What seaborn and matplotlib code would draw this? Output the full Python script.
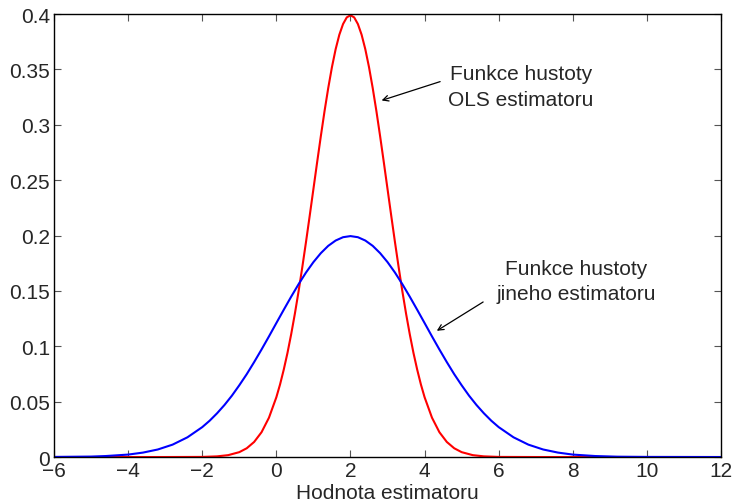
import matplotlib
matplotlib.use("Agg")
import matplotlib.pyplot as plt
import seaborn as sns
import pandas as pd

# Values
ols_x = [-6, -3, -2, -1.6, -1.3, -1.0, -0.8, -0.6, -0.4, -0.2,
         0.0, 0.1, 0.2, 0.3, 0.4, 0.5, 0.6, 0.7, 0.8, 0.9,
         1.0, 1.1, 1.2, 1.3, 1.4, 1.5, 1.6, 1.7, 1.8, 1.9,
         2.0, 2.1, 2.2, 2.3, 2.4, 2.5, 2.6, 2.7, 2.8, 2.9,
         3.0, 3.1, 3.2, 3.3, 3.4, 3.5, 3.6, 3.7, 3.8, 3.9,
         4.0, 4.2, 4.4, 4.6, 4.8, 5.0, 5.3, 5.6, 6.0, 7.0, 12.0]
ols_y = [0.0000, 0.0000, 0.0001, 0.0006, 0.0017, 0.0044, 0.0079, 0.0136, 0.0224, 0.0355,
         0.0540, 0.0656, 0.0790, 0.0940, 0.1109, 0.1295, 0.1497, 0.1714, 0.1942, 0.2179,
         0.2420, 0.2661, 0.2897, 0.3123, 0.3332, 0.3521, 0.3683, 0.3814, 0.3910, 0.3970,
         0.3989, 0.3970, 0.3910, 0.3814, 0.3683, 0.3521, 0.3332, 0.3123, 0.2897, 0.2661,
         0.2420, 0.2179, 0.1942, 0.1714, 0.1497, 0.1295, 0.1109, 0.0940, 0.0790, 0.0656,
         0.0540, 0.0355, 0.0224, 0.0136, 0.0079, 0.0044, 0.0017, 0.0006, 0.0001, 0.0000, 0.0000]

other_x = [-6, -5, -4.6, -4.0, -3.6, -3.2, -2.8, -2.4,
           -2.0, -1.8, -1.6, -1.4, -1.2, -1.0, -0.8, -0.6, -0.4, -0.2,
           0.0, 0.2, 0.4, 0.6, 0.8, 1.0, 1.2, 1.4, 1.6, 1.8,
           2.0, 2.2, 2.4, 2.6, 2.8, 3.0, 3.2, 3.4, 3.6, 3.8,
           4.0, 4.2, 4.4, 4.6, 4.8, 5.0, 5.2, 5.4, 5.6, 5.8,
           6.0, 6.4, 6.8, 7.2, 7.6, 8.0, 8.6, 9.2, 10.0, 12.0]
other_y = [0.0001, 0.0004, 0.0009, 0.0022, 0.0040, 0.0068, 0.0112, 0.0178,
           0.0270, 0.0328, 0.0395, 0.0470, 0.0554, 0.0648, 0.0748, 0.0857, 0.0971, 0.1089,
           0.1210, 0.1330, 0.1448, 0.1561, 0.1666, 0.1760, 0.1841, 0.1907, 0.1955, 0.1985,
           0.1995, 0.1985, 0.1955, 0.1907, 0.1841, 0.1760, 0.1666, 0.1561, 0.1448, 0.1330,
           0.1210, 0.1089, 0.0971, 0.0857, 0.0748, 0.0648, 0.0554, 0.0470, 0.0395, 0.0328,
           0.0270, 0.0178, 0.0112, 0.0068, 0.0040, 0.0022, 0.0009, 0.0003, 0.0001, 0.0000]

x_ticks = [-6, -4, -2, 0, 2, 4, 6, 8, 10, 12]
y_ticks = [0, 0.05, 0.1, 0.15, 0.2, 0.25, 0.3, 0.35, 0.4]
y_tick_labels = ["0", "0.05", "0.1", "0.15", "0.2", "0.25", "0.3", "0.35", "0.4"]
x_label = "Hodnota estimatoru"
note_ols = "Funkce hustoty\nOLS estimatoru"
note_other = "Funkce hustoty\njineho estimatoru"

sns.set_style("ticks")
plt.rcParams['font.family'] = ['Liberation Sans', 'DejaVu Sans']
plt.rcParams['xtick.direction'] = 'in'
plt.rcParams['ytick.direction'] = 'in'

fig = plt.figure(figsize=(7.35, 5.02), dpi=100)
ax = fig.add_axes([0.0735, 0.0876, 0.9075, 0.8824])

df_ols = pd.DataFrame({"x": ols_x, "y": ols_y})
df_other = pd.DataFrame({"x": other_x, "y": other_y})
sns.lineplot(data=df_ols, x="x", y="y", color="#ff0000", lw=1.5, ax=ax, sort=False)
sns.lineplot(data=df_other, x="x", y="y", color="#0000ff", lw=1.5, ax=ax, sort=False)

ax.set_xlim(-6, 12)
ax.set_ylim(0, 0.4)
ax.set_xticks(x_ticks)
ax.set_xticklabels([str(v).replace("-", "\u2212") for v in x_ticks])
ax.set_yticks(y_ticks)
ax.set_yticklabels(y_tick_labels)
ax.tick_params(axis='both', labelsize=15, length=5, width=0.8, color='#555555',
               top=True, right=True, pad=3)
ax.set_xlabel(x_label, fontsize=15, labelpad=2)
ax.set_ylabel("")
for s in ax.spines.values():
    s.set_linewidth(1.0)
    s.set_color('black')

ax.text(6.6, 0.3345, note_ols, ha='center', va='center', fontsize=15, linespacing=1.45)
ax.annotate("", xy=(2.84, 0.322), xytext=(4.42, 0.339),
            arrowprops=dict(arrowstyle='->', color='black', lw=0.9,
                            shrinkA=0, shrinkB=0))
ax.text(8.1, 0.159, note_other, ha='center', va='center', fontsize=15, linespacing=1.45)
ax.annotate("", xy=(4.33, 0.114), xytext=(5.58, 0.140),
            arrowprops=dict(arrowstyle='->', color='black', lw=0.9,
                            shrinkA=0, shrinkB=0))

fig.savefig("out.png", dpi=100)
